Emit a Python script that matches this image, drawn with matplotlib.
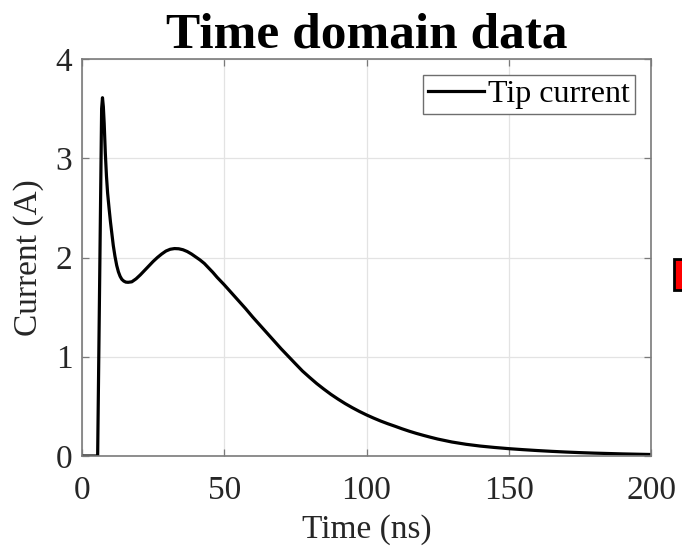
import matplotlib
matplotlib.use("Agg")
import matplotlib.pyplot as plt
from matplotlib.patches import Rectangle

# Data
time_ns = [0, 5.5, 6.9, 7.2, 7.5, 7.8, 8.2, 8.6, 9.0, 9.5, 10.0, 10.5, 11.0, 11.6,
           12.2, 12.8, 13.4, 14.0, 14.7, 15.4, 16.2,
           17.5, 19, 20.5, 22, 23.5, 25, 26.5, 28, 29.5, 31, 32.5, 34, 35.5, 37,
           38.5, 40, 41.5, 43, 44.5, 46, 47.5, 49, 50,
           52.5, 55, 57.5, 60, 62.5, 65, 67.5, 70, 72.5, 75, 77.5, 80, 82.5, 85,
           87.5, 90, 92.5, 95, 97.5, 100, 102.5, 105, 107.5, 110, 112.5, 115,
           117.5, 120, 122.5, 125, 130, 135, 140, 145, 150, 155, 160, 165, 170,
           175, 180, 185, 190, 195, 200]
current_a = [0, 0, 3.50, 3.61, 3.52, 3.35, 3.05, 2.82, 2.65, 2.50, 2.36, 2.24, 2.12, 2.01,
             1.92, 1.855, 1.81, 1.78, 1.762, 1.752, 1.75,
             1.755, 1.785, 1.825, 1.87, 1.915, 1.96, 2.00, 2.035, 2.065, 2.083, 2.09, 2.088,
             2.078, 2.06, 2.035, 2.005, 1.975, 1.94, 1.895, 1.85, 1.80, 1.755, 1.725,
             1.645, 1.565, 1.485, 1.40, 1.32, 1.24, 1.16, 1.08, 1.005, 0.93, 0.856, 0.792,
             0.730, 0.674, 0.621, 0.573, 0.528, 0.487, 0.449, 0.414, 0.382, 0.352, 0.325,
             0.300, 0.274, 0.250, 0.228, 0.208, 0.189, 0.171, 0.141, 0.118, 0.100, 0.086,
             0.074, 0.064, 0.055, 0.047, 0.040, 0.034, 0.029, 0.025, 0.021, 0.018, 0.015]
x_ticks = [0, 50, 100, 150, 200]
y_ticks = [0, 1, 2, 3, 4]
series_label = "Tip current"

plt.rcParams['font.family'] = ['Liberation Serif', 'DejaVu Serif']

fig = plt.figure(figsize=(6.82, 5.51), dpi=100)
ax = fig.add_axes([82/682, 1-456/551, (651-82)/682, (456-59)/551])

ax.plot(time_ns, current_a, color='black', linewidth=2.3, label=series_label,
        solid_joinstyle='round')
ax.set_xlim(0, 200)
ax.set_ylim(0, 4)
ax.set_xticks(x_ticks)
ax.set_yticks(y_ticks)
ax.grid(True, color='#e3e3e3', linewidth=0.9)
ax.set_axisbelow(True)
for s in ax.spines.values():
    s.set_color('#7a7a7a')
    s.set_linewidth(1.2)
ax.tick_params(direction='in', length=5, width=0.9, color='#7a7a7a',
               labelsize=24, top=True, right=True, labelcolor='#262626')
ax.tick_params(axis='x', pad=14)
ax.tick_params(axis='y', pad=7)

ax.set_xlabel('Time (ns)', fontsize=24, color='#262626', labelpad=6)
ax.set_ylabel('Current (A)', fontsize=24, color='#262626', labelpad=8)
ax.set_title('Time domain data', fontsize=37, fontweight='bold', pad=8)

leg = ax.legend(loc='upper right', fontsize=23, frameon=True, fancybox=False,
                edgecolor='#6e6e6e', handlelength=1.75, handletextpad=0.15,
                borderpad=0.15, borderaxespad=0.5, framealpha=1)
leg.get_frame().set_linewidth(1.0)

# partial red marker at the right edge of the picture
fig.patches.append(Rectangle((674/682, 1-290/551), 20/682, 31/551,
                             transform=fig.transFigure, facecolor='#ff0000',
                             edgecolor='black', linewidth=2, clip_on=False))

fig.savefig('out.png', dpi=100)
